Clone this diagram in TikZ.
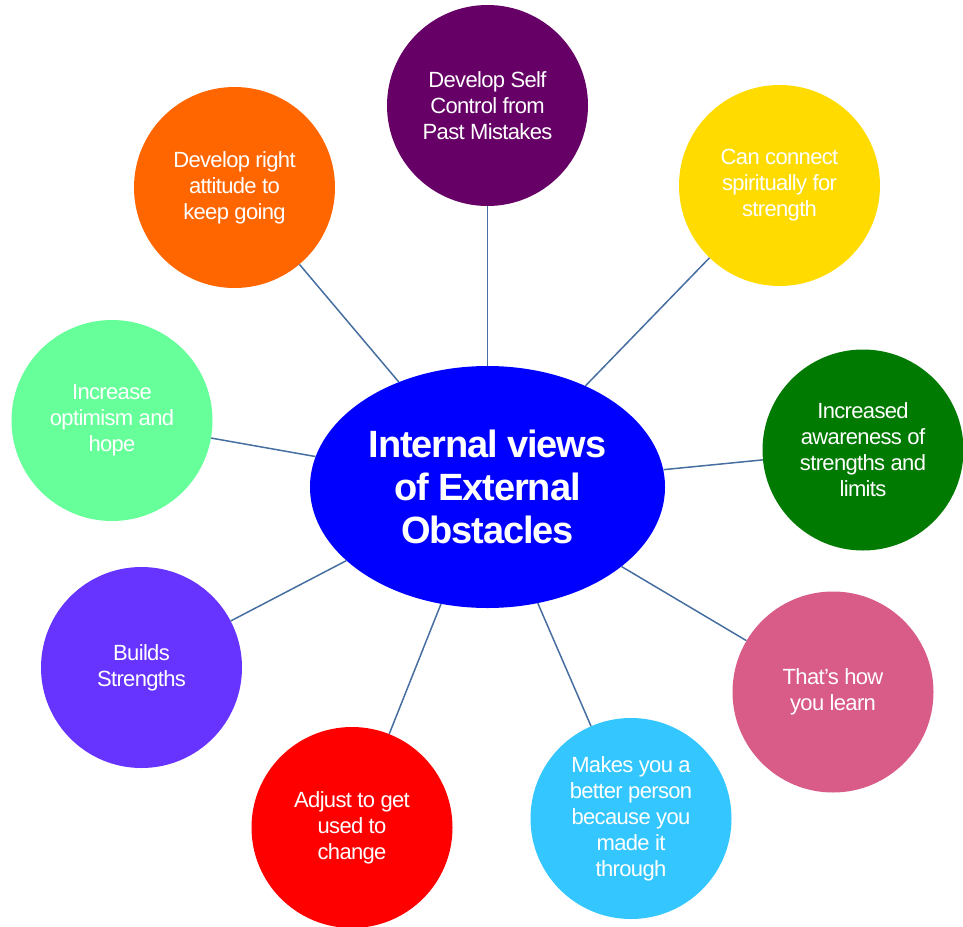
\documentclass[tikz,border=0pt]{standalone}
\usepackage{fontspec}
\setmainfont{Liberation Sans}[LetterSpace=-3]
\usetikzlibrary{shapes.geometric}
\definecolor{cpurple}{RGB}{102,0,102}
\definecolor{cyellow}{RGB}{255,219,0}
\definecolor{cgreen}{RGB}{0,122,0}
\definecolor{cpink}{RGB}{217,91,135}
\definecolor{clblue}{RGB}{51,198,255}
\definecolor{cred}{RGB}{255,0,0}
\definecolor{cviolet}{RGB}{102,51,255}
\definecolor{cmint}{RGB}{102,255,153}
\definecolor{corange}{RGB}{255,102,0}
\definecolor{cblue}{RGB}{0,0,255}
\definecolor{cline}{RGB}{70,110,160}
\tikzset{
  bubble/.style={circle, minimum size=201pt, inner sep=0pt, draw=none,
    text=white, align=center, font=\fontsize{22}{26}\selectfont},
  hub/.style={ellipse, minimum width=355pt, minimum height=242pt, inner sep=0pt,
    fill=cblue, draw=none, text=white, align=center,
    font=\fontsize{38}{43}\selectfont\bfseries},
  spoke/.style={draw=cline, line width=1.5pt}
}
\begin{document}
\begin{tikzpicture}[x=1pt,y=-1pt]
\useasboundingbox (0,0) rectangle (963,926);
\node[hub] (c) at (487.5,487) {Internal views\\of External\\Obstacles};
\node[bubble, fill=cpurple] (n1) at (487.5,105.5) {Develop Self\\Control from\\Past Mistakes};
\node[bubble, fill=cyellow] (n2) at (779.5,185.5) {Can connect\\spiritually for\\strength};
\node[bubble, fill=cgreen] (n3) at (863,450) {Increased\\awareness of\\strengths and\\limits};
\node[bubble, fill=cpink] (n4) at (833,692) {That’s how\\you learn};
\node[bubble, fill=clblue] (n5) at (631,818.5) {Makes you a\\better person\\because you\\made it\\through};
\node[bubble, fill=cred] (n6) at (352,827.5) {Adjust to get\\used to\\change};
\node[bubble, fill=cviolet] (n7) at (141.5,667.5) {Builds\\Strengths};
\node[bubble, fill=cmint] (n8) at (112,420.5) {Increase\\optimism and\\hope};
\node[bubble, fill=corange] (n9) at (234.5,187.5) {Develop right\\attitude to\\keep going};
\foreach \n in {n1,n2,n3,n4,n5,n6,n7,n8,n9}
  \draw[spoke] (c) -- (\n);
\end{tikzpicture}
\end{document}
